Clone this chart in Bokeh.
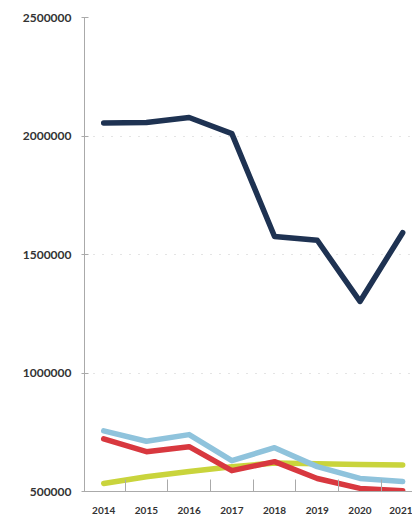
from bokeh.plotting import figure
from bokeh.models import FixedTicker, Range1d, NumeralTickFormatter
from bokeh.embed import file_html
from bokeh.resources import INLINE

years = [2014, 2015, 2016, 2017, 2018, 2019, 2020, 2021]
navy_vals = [2055000, 2057000, 2078000, 2010000, 1576000, 1560000, 1302000, 1592000]
blue_vals = [756000, 712000, 740000, 630000, 685000, 605000, 555000, 542000]
red_vals = [722000, 668000, 689000, 588000, 626000, 555000, 513000, 503000]
yellow_vals = [534000, 562000, 584000, 604000, 620000, 617000, 614000, 612000]
y_ticks = [500000, 1000000, 1500000, 2000000, 2500000]
x_bounds = [2014.5, 2015.5, 2016.5, 2017.5, 2018.5, 2019.5, 2020.5, 2021.5]

p = figure(width=412, height=516, output_backend="svg", toolbar_location=None,
           x_range=Range1d(2013.55, 2021.23), y_range=Range1d(500000, 2500000),
           min_border_left=84, min_border_right=0, min_border_top=17, min_border_bottom=23)
p.outline_line_color = None
p.background_fill_color = "white"

lw = 5.5
p.line(years, yellow_vals, line_color="#c9d43c", line_width=lw, line_cap="round", line_join="round")
p.line(years, blue_vals, line_color="#8fc3dc", line_width=lw, line_cap="round", line_join="round")
p.line(years, red_vals, line_color="#d8383f", line_width=lw, line_cap="round", line_join="round")
p.line(years, navy_vals, line_color="#1e3252", line_width=lw, line_cap="round", line_join="round")

p.xgrid.grid_line_color = None
p.ygrid.ticker = FixedTicker(ticks=y_ticks)
p.ygrid.grid_line_color = "#c8c8c8"
p.ygrid.grid_line_dash = "1 8"
p.ygrid.grid_line_width = 1

p.yaxis.ticker = FixedTicker(ticks=y_ticks)
p.yaxis.formatter = NumeralTickFormatter(format="0")
p.yaxis.axis_line_color = "#aaaaaa"
p.yaxis.major_tick_line_color = "#aaaaaa"
p.yaxis.major_tick_in = 4
p.yaxis.major_tick_out = 3
p.yaxis.minor_tick_line_color = None
p.yaxis.major_label_standoff = 10
p.yaxis.major_label_text_font = "Lato"
p.yaxis.major_label_text_font_style = "bold"
p.yaxis.major_label_text_font_size = "12px"
p.yaxis.major_label_text_color = "#333333"

p.xaxis.ticker = FixedTicker(ticks=years, minor_ticks=x_bounds)
p.xaxis.axis_line_color = "#aaaaaa"
p.xaxis.major_tick_line_color = None
p.xaxis.minor_tick_line_color = "#aaaaaa"
p.xaxis.minor_tick_in = 12
p.xaxis.minor_tick_out = 0
p.xaxis.major_label_standoff = 9
p.xaxis.major_label_text_font = "Lato"
p.xaxis.major_label_text_font_style = "bold"
p.xaxis.major_label_text_font_size = "10px"
p.xaxis.major_label_text_color = "#333333"

open("out.html", "w").write(file_html(p, INLINE))
